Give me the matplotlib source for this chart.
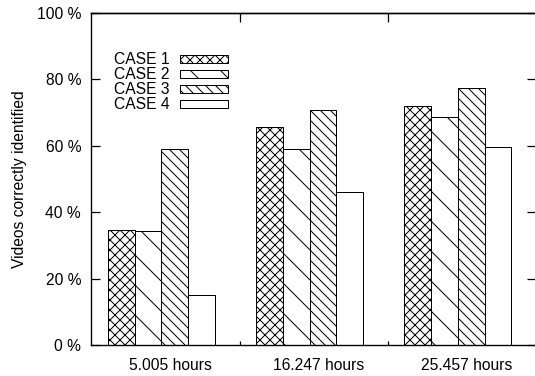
import numpy as np
import matplotlib
matplotlib.use("Agg")
import matplotlib.pyplot as plt

# data
groups = ["5.005 hours", "16.247 hours", "25.457 hours"]
cases = ["CASE 1", "CASE 2", "CASE 3", "CASE 4"]
case1 = [34.5, 65.6, 72.1]
case2 = [34.2, 59.1, 68.8]
case3 = [59.1, 70.7, 77.5]
case4 = [15.0, 46.0, 59.7]
hatches = ["xxx", "\\", "\\\\\\", ""]

plt.rcParams["font.family"] = ["Liberation Sans", "DejaVu Sans"]
plt.rcParams["font.size"] = 12.5
plt.rcParams["hatch.linewidth"] = 0.8
plt.rcParams["axes.linewidth"] = 1.1

DPI = 90
fig = plt.figure(figsize=(535 / DPI, 376 / DPI), dpi=DPI)
ax = fig.add_axes([91 / 535, 31 / 376, 445 / 535, 332 / 376])

x = np.arange(len(groups))
w = 0.18
for i, (vals, lab) in enumerate(zip([case1, case2, case3, case4], cases)):
    ax.bar(x + (i - 1.5) * w, vals, w, color="white", edgecolor="black",
           linewidth=0.8, hatch=hatches[i], label=lab)

ax.set_xlim(-0.4734, 2.527)
ax.set_ylim(0, 100)

ax.set_yticks(range(0, 101, 20))
ax.set_yticklabels(["%d %%" % v for v in range(0, 101, 20)])
ax.tick_params(axis="y", direction="in", length=7.2, width=1.0, left=True, right=True, pad=8)

ax.set_xticks(x + 0.06)
ax.set_xticklabels(groups)
ax.tick_params(axis="x", which="major", length=0, pad=10)
ax.set_xticks([0.53, 1.53], minor=True)
ax.tick_params(axis="x", which="minor", direction="in", length=3.6, width=1.0, bottom=True)

top = ax.secondary_xaxis("top")
top.set_xticks([0.53, 1.53])
top.set_xticklabels([])
top.tick_params(direction="in", length=7.2, width=1.0)

ax.set_ylabel("Videos correctly identified", labelpad=8)

ax.legend(loc="upper left", bbox_to_anchor=(114 / 535, 1 - 52.4 / 376),
          bbox_transform=fig.transFigure, frameon=False, markerfirst=False,
          borderpad=0, borderaxespad=0, labelspacing=0.0,
          handlelength=3.08, handleheight=0.45, handletextpad=0.66)

fig.savefig("out.png", dpi=DPI)
